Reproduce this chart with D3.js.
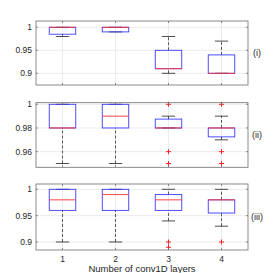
<!DOCTYPE html>
<html>
<head>
<meta charset="utf-8">
<script src="https://cdn.jsdelivr.net/npm/d3@7"></script>
<style>
  body { margin: 0; background: #fff; }
  svg { display: block; font-family: "Liberation Sans", Arial, sans-serif; }
</style>
</head>
<body>
<div id="chart"></div>
<script>
const width = 273
const height = 273

const layers = [1, 2, 3, 4]

// each stat: [lowWhisker, q1, median, q3, highWhisker]
const statsI = [
  [0.98, 0.985, 1, 1, 1],
  [0.99, 0.99, 1, 1, 1],
  [0.90, 0.91, 0.91, 0.95, 0.98],
  [0.90, 0.90, 0.90, 0.94, 0.97]
]
const outliersI = [[], [], [], []]

const statsII = [
  [0.95, 0.98, 0.98, 1, 1],
  [0.95, 0.98, 0.99, 1, 1],
  [0.98, 0.98, 0.98, 0.9875, 0.99],
  [0.97, 0.9725, 0.98, 0.98, 0.99]
]
const outliersII = [[], [], [1, 0.96, 0.95], [1, 0.96, 0.95]]

const statsIII = [
  [0.90, 0.96, 0.98, 1, 1],
  [0.90, 0.96, 0.99, 1, 1],
  [0.94, 0.96, 0.98, 0.99, 1],
  [0.93, 0.955, 0.98, 0.98, 1]
]
const outliersIII = [[], [], [0.90, 0.89], [0.90]]

const panels = [
  {label: "(i)", stats: statsI, outliers: outliersI, domain: [0.8746, 1.0137], ticks: [0.9, 0.95, 1], top: 21, bottom: 85},
  {label: "(ii)", stats: statsII, outliers: outliersII, domain: [0.9468, 1.00135], ticks: [0.96, 0.98, 1], top: 102.7, bottom: 167.3},
  {label: "(iii)", stats: statsIII, outliers: outliersIII, domain: [0.8848, 1.0101], ticks: [0.9, 0.95, 1], top: 184, bottom: 250}
]

const left = 36, right = 248
const axisColor = "#6e6e6e"
const textColor = "#262626"
const fmt = d => d === 1 ? "1" : String(d)

const svg = d3.select("#chart").append("svg")
  .attr("width", width)
  .attr("height", height)

const x = d3.scaleLinear().domain([0.5, 4.5]).range([left, right])

panels.forEach((p, pi) => {
  const y = d3.scaleLinear().domain(p.domain).range([p.bottom, p.top])
  const g = svg.append("g")

  // grid
  g.selectAll(".gx").data(layers).join("line")
    .attr("x1", d => x(d)).attr("x2", d => x(d))
    .attr("y1", p.top).attr("y2", p.bottom)
    .attr("stroke", "#e6e6e6").attr("stroke-width", 0.8)
  g.selectAll(".gy").data(p.ticks).join("line")
    .attr("x1", left).attr("x2", right)
    .attr("y1", d => y(d)).attr("y2", d => y(d))
    .attr("stroke", "#e6e6e6").attr("stroke-width", 0.8)

  const bw = 0.25, cw = 0.125
  const box = g.selectAll(".box").data(p.stats).join("g")

  // whiskers
  box.append("line")
    .attr("x1", (d, i) => x(layers[i])).attr("x2", (d, i) => x(layers[i]))
    .attr("y1", d => y(d[3])).attr("y2", d => y(d[4]))
    .attr("stroke", "#333").attr("stroke-dasharray", "3,2").attr("stroke-width", 0.8)
  box.append("line")
    .attr("x1", (d, i) => x(layers[i])).attr("x2", (d, i) => x(layers[i]))
    .attr("y1", d => y(d[0])).attr("y2", d => y(d[1]))
    .attr("stroke", "#333").attr("stroke-dasharray", "3,2").attr("stroke-width", 0.8)
  // caps
  box.append("line")
    .attr("x1", (d, i) => x(layers[i] - cw)).attr("x2", (d, i) => x(layers[i] + cw))
    .attr("y1", d => y(d[0])).attr("y2", d => y(d[0]))
    .attr("stroke", "#222").attr("stroke-width", 0.8)
  box.append("line")
    .attr("x1", (d, i) => x(layers[i] - cw)).attr("x2", (d, i) => x(layers[i] + cw))
    .attr("y1", d => y(d[4])).attr("y2", d => y(d[4]))
    .attr("stroke", "#222").attr("stroke-width", 0.8)
  // box
  box.append("rect")
    .attr("x", (d, i) => x(layers[i] - bw))
    .attr("width", x(1 + bw) - x(1 - bw))
    .attr("y", d => y(d[3]))
    .attr("height", d => y(d[1]) - y(d[3]))
    .attr("fill", "none").attr("stroke", "#3a3aff").attr("stroke-width", 0.9)
  // median
  box.append("line")
    .attr("x1", (d, i) => x(layers[i] - bw)).attr("x2", (d, i) => x(layers[i] + bw))
    .attr("y1", d => y(d[2])).attr("y2", d => y(d[2]))
    .attr("stroke", "#ff3030").attr("stroke-width", 0.9)

  // outliers
  p.outliers.forEach((os, i) => {
    os.forEach(v => {
      const cx = x(layers[i]), cy = y(v)
      g.append("path")
        .attr("d", `M${cx - 2.5},${cy}H${cx + 2.5}M${cx},${cy - 2.5}V${cy + 2.5}`)
        .attr("stroke", "#ff2020").attr("stroke-width", 1)
    })
  })

  // frame
  g.append("rect")
    .attr("x", left).attr("y", p.top)
    .attr("width", right - left).attr("height", p.bottom - p.top)
    .attr("fill", "none").attr("stroke", axisColor).attr("stroke-width", 0.8)

  // ticks
  g.selectAll(".tyl").data(p.ticks).join("path")
    .attr("d", d => `M${left},${y(d)}h2M${right},${y(d)}h-2`)
    .attr("stroke", axisColor).attr("stroke-width", 0.8)
  g.selectAll(".tx").data(layers).join("path")
    .attr("d", d => `M${x(d)},${p.bottom}v-2M${x(d)},${p.top}v2`)
    .attr("stroke", axisColor).attr("stroke-width", 0.8)

  g.selectAll(".ylab").data(p.ticks).join("text")
    .attr("x", left - 4).attr("y", d => y(d))
    .attr("dy", "0.35em").attr("text-anchor", "end")
    .attr("font-size", 8.5).attr("fill", textColor)
    .text(fmt)

  g.append("text")
    .attr("x", 257).attr("y", (p.top + p.bottom) / 2)
    .attr("dy", "0.35em").attr("text-anchor", "middle")
    .attr("font-size", 9).attr("fill", textColor)
    .text(p.label)

  if (pi === panels.length - 1) {
    g.selectAll(".xlab").data(layers).join("text")
      .attr("x", d => x(d)).attr("y", p.bottom + 9)
      .attr("dy", "0.35em").attr("text-anchor", "middle")
      .attr("font-size", 8.5).attr("fill", textColor)
      .text(d => d)
    g.append("text")
      .attr("x", (left + right) / 2).attr("y", 269)
      .attr("dy", "0.35em").attr("text-anchor", "middle")
      .attr("font-size", 9.5).attr("fill", textColor)
      .text("Number of conv1D layers")
  }
})
</script>
</body>
</html>
